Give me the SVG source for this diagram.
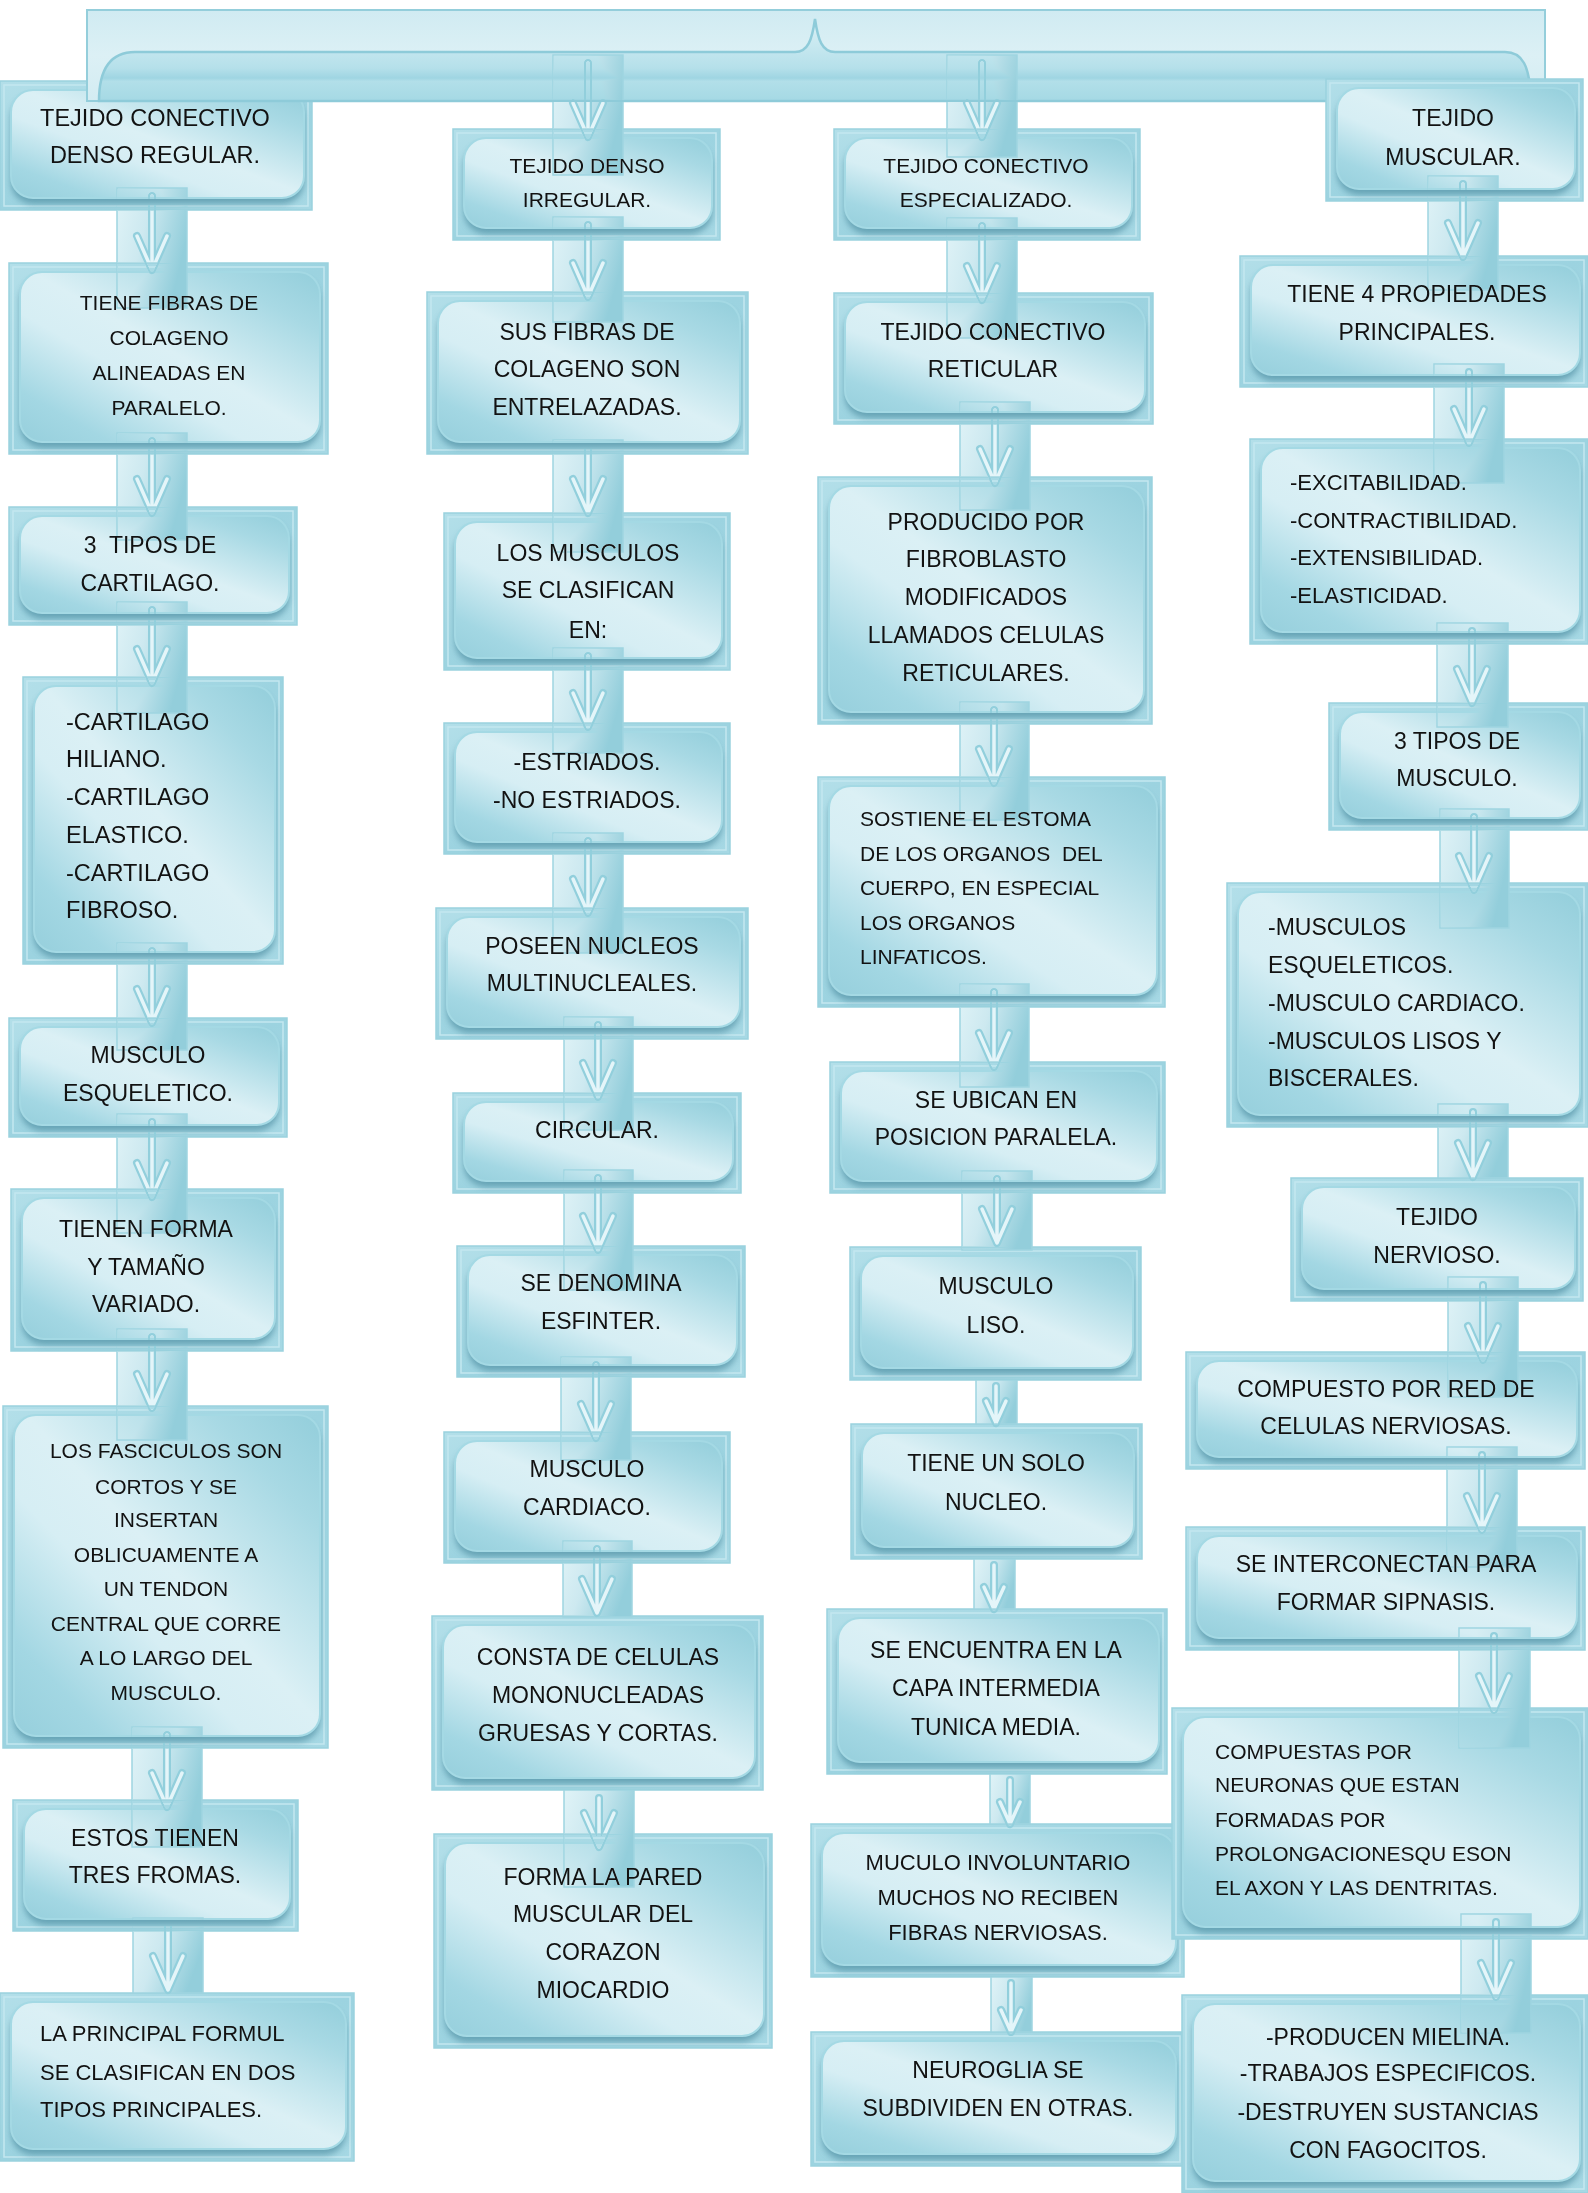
<svg xmlns="http://www.w3.org/2000/svg" width="1588" height="2193" viewBox="0 0 1588 2193">
<defs>
<linearGradient id="gO" x1="0" y1="0" x2="1" y2="1"><stop offset="0" stop-color="#b3dfe9"/><stop offset="0.5" stop-color="#9cd3e0"/><stop offset="1" stop-color="#a6d8e4"/></linearGradient>
<linearGradient id="gI" x1="1" y1="0" x2="0" y2="1"><stop offset="0" stop-color="#93cedb"/><stop offset="0.18" stop-color="#a8d9e4"/><stop offset="0.48" stop-color="#dbf0f5"/><stop offset="0.62" stop-color="#d6eef4"/><stop offset="0.85" stop-color="#a3d7e3"/><stop offset="1" stop-color="#96cfdc"/></linearGradient>
<linearGradient id="gA" x1="0" y1="0" x2="1" y2="0.4"><stop offset="0" stop-color="#e0f3f7"/><stop offset="0.45" stop-color="#cde9f0"/><stop offset="1" stop-color="#93cedb"/></linearGradient>
<linearGradient id="gBan" x1="0" y1="0" x2="0" y2="1"><stop offset="0" stop-color="#d0ebf2"/><stop offset="0.5" stop-color="#dcf0f5"/><stop offset="1" stop-color="#d3ecf2"/></linearGradient>
<linearGradient id="gBr" x1="0" y1="0" x2="0" y2="1"><stop offset="0" stop-color="#dcf1f6"/><stop offset="0.6" stop-color="#b5e0ea"/><stop offset="0.72" stop-color="#9fd5e2"/><stop offset="0.76" stop-color="#b2dfe9"/><stop offset="1" stop-color="#a5d9e4"/></linearGradient>
<filter id="bl" x="-10%" y="-10%" width="120%" height="130%"><feGaussianBlur stdDeviation="3"/></filter>
</defs>
<style>
.o{fill:url(#gO);stroke:#9ad2de;stroke-width:1.5}
.f{fill:none;stroke:#c4e7ef;stroke-width:1.5}
.s{fill:#4f8fa3;opacity:.7;filter:url(#bl);rx:22px;ry:22px}
.i{fill:url(#gI);stroke:#a4d9e4;stroke-width:2;rx:22px;ry:22px}
.t{font-family:'Liberation Sans',Arial,sans-serif;font-size:23px;fill:#121212;text-anchor:middle}
.tl{text-anchor:start}
.m{font-size:21px}.n{font-size:22px}.l{font-size:23.5px}
.ar{fill:url(#gA);stroke:#9fd5e1;stroke-width:1.5}
.ao{fill:none;stroke:#92cfdc;stroke-width:8;stroke-linejoin:round;stroke-linecap:round}
.ai{fill:none;stroke:#e4f5f9;stroke-width:3.5;stroke-linejoin:round;stroke-linecap:round}
#connectors{mix-blend-mode:darken}
</style>
<rect width="1588" height="2193" fill="#fff"/>
<g id="b1"><rect class="o" x="0" y="81" width="312" height="129"/><rect class="f" x="4" y="85" width="304" height="121"/><rect class="s" x="11" y="96" width="293" height="108"/><rect class="i" x="11" y="90" width="293" height="108"/><text class="t l"><tspan x="155" y="126">TEJIDO CONECTIVO</tspan><tspan x="155" y="163">DENSO REGULAR.</tspan></text></g>
<g id="top-brace"><rect x="87" y="10" width="1458" height="91" fill="url(#gBan)" stroke="#94cedb" stroke-width="2"/><path d="M99 101C99 70 110 52 135 52L795 52C808 52 812 40 815 19C818 40 822 52 835 52L1505 52C1522 52 1530 65 1531 101Z" fill="url(#gBr)" stroke="#8ecbd9" stroke-width="2.5"/></g>
<g id="b2"><rect class="o" x="9" y="263" width="319" height="191"/><rect class="f" x="13" y="267" width="311" height="183"/><rect class="s" x="20" y="278" width="300" height="170"/><rect class="i" x="20" y="272" width="300" height="170"/><text class="t m"><tspan x="169" y="310">TIENE FIBRAS DE</tspan><tspan x="169" y="345">COLAGENO</tspan><tspan x="169" y="380">ALINEADAS EN</tspan><tspan x="169" y="415">PARALELO.</tspan></text></g>
<g id="b3"><rect class="o" x="9" y="507" width="288" height="118"/><rect class="f" x="13" y="511" width="280" height="110"/><rect class="s" x="20" y="522" width="269" height="97"/><rect class="i" x="20" y="516" width="269" height="97"/><text class="t" xml:space="preserve"><tspan x="150" y="553">3  TIPOS DE</tspan><tspan x="150" y="591">CARTILAGO.</tspan></text></g>
<g id="b4"><rect class="o" x="23" y="677" width="260" height="287"/><rect class="f" x="27" y="681" width="252" height="279"/><rect class="s" x="34" y="692" width="241" height="266"/><rect class="i" x="34" y="686" width="241" height="266"/><text class="t tl l"><tspan x="66" y="730">-CARTILAGO</tspan><tspan x="66" y="767">HILIANO.</tspan><tspan x="66" y="805">-CARTILAGO</tspan><tspan x="66" y="843">ELASTICO.</tspan><tspan x="66" y="881">-CARTILAGO</tspan><tspan x="66" y="918">FIBROSO.</tspan></text></g>
<g id="b5"><rect class="o" x="9" y="1018" width="278" height="119"/><rect class="f" x="13" y="1022" width="270" height="111"/><rect class="s" x="20" y="1033" width="259" height="98"/><rect class="i" x="20" y="1027" width="259" height="98"/><text class="t"><tspan x="148" y="1063">MUSCULO</tspan><tspan x="148" y="1101">ESQUELETICO.</tspan></text></g>
<g id="b6"><rect class="o" x="11" y="1189" width="272" height="162"/><rect class="f" x="15" y="1193" width="264" height="154"/><rect class="s" x="22" y="1204" width="253" height="141"/><rect class="i" x="22" y="1198" width="253" height="141"/><text class="t"><tspan x="146" y="1237">TIENEN FORMA</tspan><tspan x="146" y="1275">Y TAMAÑO</tspan><tspan x="146" y="1312">VARIADO.</tspan></text></g>
<g id="b7"><rect class="o" x="3" y="1406" width="325" height="342"/><rect class="f" x="7" y="1410" width="317" height="334"/><rect class="s" x="14" y="1421" width="306" height="321"/><rect class="i" x="14" y="1415" width="306" height="321"/><text class="t m"><tspan x="166" y="1458">LOS FASCICULOS SON</tspan><tspan x="166" y="1494">CORTOS Y SE</tspan><tspan x="166" y="1527">INSERTAN</tspan><tspan x="166" y="1562">OBLICUAMENTE A</tspan><tspan x="166" y="1596">UN TENDON</tspan><tspan x="166" y="1631">CENTRAL QUE CORRE</tspan><tspan x="166" y="1665">A LO LARGO DEL</tspan><tspan x="166" y="1700">MUSCULO.</tspan></text></g>
<g id="b8"><rect class="o" x="13" y="1800" width="285" height="131"/><rect class="f" x="17" y="1804" width="277" height="123"/><rect class="s" x="24" y="1815" width="266" height="110"/><rect class="i" x="24" y="1809" width="266" height="110"/><text class="t"><tspan x="155" y="1846">ESTOS TIENEN</tspan><tspan x="155" y="1883">TRES FROMAS.</tspan></text></g>
<g id="b9"><rect class="o" x="0" y="1993" width="354" height="168"/><rect class="f" x="4" y="1997" width="346" height="160"/><rect class="s" x="11" y="2008" width="335" height="147"/><rect class="i" x="11" y="2002" width="335" height="147"/><text class="t tl n"><tspan x="40" y="2041">LA PRINCIPAL FORMUL</tspan><tspan x="40" y="2080">SE CLASIFICAN EN DOS</tspan><tspan x="40" y="2117">TIPOS PRINCIPALES.</tspan></text></g>
<g id="b10"><rect class="o" x="453" y="129" width="267" height="111"/><rect class="f" x="457" y="133" width="259" height="103"/><rect class="s" x="464" y="144" width="248" height="90"/><rect class="i" x="464" y="138" width="248" height="90"/><text class="t m"><tspan x="587" y="173">TEJIDO DENSO</tspan><tspan x="587" y="207">IRREGULAR.</tspan></text></g>
<g id="b11"><rect class="o" x="427" y="292" width="321" height="162"/><rect class="f" x="431" y="296" width="313" height="154"/><rect class="s" x="438" y="307" width="302" height="141"/><rect class="i" x="438" y="301" width="302" height="141"/><text class="t"><tspan x="587" y="340">SUS FIBRAS DE</tspan><tspan x="587" y="377">COLAGENO SON</tspan><tspan x="587" y="415">ENTRELAZADAS.</tspan></text></g>
<g id="b12"><rect class="o" x="444" y="513" width="286" height="157"/><rect class="f" x="448" y="517" width="278" height="149"/><rect class="s" x="455" y="528" width="267" height="136"/><rect class="i" x="455" y="522" width="267" height="136"/><text class="t"><tspan x="588" y="561">LOS MUSCULOS</tspan><tspan x="588" y="598">SE CLASIFICAN</tspan><tspan x="588" y="638">EN:</tspan></text></g>
<g id="b13"><rect class="o" x="444" y="723" width="286" height="131"/><rect class="f" x="448" y="727" width="278" height="123"/><rect class="s" x="455" y="738" width="267" height="110"/><rect class="i" x="455" y="732" width="267" height="110"/><text class="t"><tspan x="587" y="770">-ESTRIADOS.</tspan><tspan x="587" y="808">-NO ESTRIADOS.</tspan></text></g>
<g id="b14"><rect class="o" x="436" y="908" width="312" height="131"/><rect class="f" x="440" y="912" width="304" height="123"/><rect class="s" x="447" y="923" width="293" height="110"/><rect class="i" x="447" y="917" width="293" height="110"/><text class="t"><tspan x="592" y="954">POSEEN NUCLEOS</tspan><tspan x="592" y="991">MULTINUCLEALES.</tspan></text></g>
<g id="b15"><rect class="o" x="453" y="1093" width="288" height="100"/><rect class="f" x="457" y="1097" width="280" height="92"/><rect class="s" x="464" y="1108" width="269" height="79"/><rect class="i" x="464" y="1102" width="269" height="79"/><text class="t"><tspan x="597" y="1138">CIRCULAR.</tspan></text></g>
<g id="b16"><rect class="o" x="457" y="1246" width="288" height="131"/><rect class="f" x="461" y="1250" width="280" height="123"/><rect class="s" x="468" y="1261" width="269" height="110"/><rect class="i" x="468" y="1255" width="269" height="110"/><text class="t"><tspan x="601" y="1291">SE DENOMINA</tspan><tspan x="601" y="1329">ESFINTER.</tspan></text></g>
<g id="b17"><rect class="o" x="444" y="1432" width="286" height="131"/><rect class="f" x="448" y="1436" width="278" height="123"/><rect class="s" x="455" y="1447" width="267" height="110"/><rect class="i" x="455" y="1441" width="267" height="110"/><text class="t"><tspan x="587" y="1477">MUSCULO</tspan><tspan x="587" y="1515">CARDIACO.</tspan></text></g>
<g id="b18"><rect class="o" x="432" y="1616" width="331" height="174"/><rect class="f" x="436" y="1620" width="323" height="166"/><rect class="s" x="443" y="1631" width="312" height="153"/><rect class="i" x="443" y="1625" width="312" height="153"/><text class="t"><tspan x="598" y="1665">CONSTA DE CELULAS</tspan><tspan x="598" y="1703">MONONUCLEADAS</tspan><tspan x="598" y="1741">GRUESAS Y CORTAS.</tspan></text></g>
<g id="b19"><rect class="o" x="434" y="1834" width="338" height="214"/><rect class="f" x="438" y="1838" width="330" height="206"/><rect class="s" x="445" y="1849" width="319" height="193"/><rect class="i" x="445" y="1843" width="319" height="193"/><text class="t"><tspan x="603" y="1885">FORMA LA PARED</tspan><tspan x="603" y="1922">MUSCULAR DEL</tspan><tspan x="603" y="1960">CORAZON</tspan><tspan x="603" y="1998">MIOCARDIO</tspan></text></g>
<g id="b20"><rect class="o" x="834" y="129" width="306" height="111"/><rect class="f" x="838" y="133" width="298" height="103"/><rect class="s" x="845" y="144" width="287" height="90"/><rect class="i" x="845" y="138" width="287" height="90"/><text class="t m"><tspan x="986" y="173">TEJIDO CONECTIVO</tspan><tspan x="986" y="207">ESPECIALIZADO.</tspan></text></g>
<g id="b21"><rect class="o" x="834" y="293" width="319" height="131"/><rect class="f" x="838" y="297" width="311" height="123"/><rect class="s" x="845" y="308" width="300" height="110"/><rect class="i" x="845" y="302" width="300" height="110"/><text class="t"><tspan x="993" y="340">TEJIDO CONECTIVO</tspan><tspan x="993" y="377">RETICULAR</tspan></text></g>
<g id="b22"><rect class="o" x="818" y="477" width="334" height="247"/><rect class="f" x="822" y="481" width="326" height="239"/><rect class="s" x="829" y="492" width="315" height="226"/><rect class="i" x="829" y="486" width="315" height="226"/><text class="t"><tspan x="986" y="530">PRODUCIDO POR</tspan><tspan x="986" y="567">FIBROBLASTO</tspan><tspan x="986" y="605">MODIFICADOS</tspan><tspan x="986" y="643">LLAMADOS CELULAS</tspan><tspan x="986" y="681">RETICULARES.</tspan></text></g>
<g id="b23"><rect class="o" x="818" y="777" width="347" height="230"/><rect class="f" x="822" y="781" width="339" height="222"/><rect class="s" x="829" y="792" width="328" height="209"/><rect class="i" x="829" y="786" width="328" height="209"/><text class="t tl m" xml:space="preserve"><tspan x="860" y="826">SOSTIENE EL ESTOMA</tspan><tspan x="860" y="861">DE LOS ORGANOS  DEL</tspan><tspan x="860" y="895">CUERPO, EN ESPECIAL</tspan><tspan x="860" y="930">LOS ORGANOS</tspan><tspan x="860" y="964">LINFATICOS.</tspan></text></g>
<g id="b24"><rect class="o" x="830" y="1062" width="335" height="131"/><rect class="f" x="834" y="1066" width="327" height="123"/><rect class="s" x="841" y="1077" width="316" height="110"/><rect class="i" x="841" y="1071" width="316" height="110"/><text class="t"><tspan x="996" y="1108">SE UBICAN EN</tspan><tspan x="996" y="1145">POSICION PARALELA.</tspan></text></g>
<g id="b25"><rect class="o" x="850" y="1247" width="291" height="133"/><rect class="f" x="854" y="1251" width="283" height="125"/><rect class="s" x="861" y="1262" width="272" height="112"/><rect class="i" x="861" y="1256" width="272" height="112"/><text class="t"><tspan x="996" y="1294">MUSCULO</tspan><tspan x="996" y="1333">LISO.</tspan></text></g>
<g id="b26"><rect class="o" x="851" y="1424" width="291" height="135"/><rect class="f" x="855" y="1428" width="283" height="127"/><rect class="s" x="862" y="1439" width="272" height="114"/><rect class="i" x="862" y="1433" width="272" height="114"/><text class="t"><tspan x="996" y="1471">TIENE UN SOLO</tspan><tspan x="996" y="1510">NUCLEO.</tspan></text></g>
<g id="b27"><rect class="o" x="827" y="1609" width="340" height="165"/><rect class="f" x="831" y="1613" width="332" height="157"/><rect class="s" x="838" y="1624" width="321" height="144"/><rect class="i" x="838" y="1618" width="321" height="144"/><text class="t"><tspan x="996" y="1658">SE ENCUENTRA EN LA</tspan><tspan x="996" y="1696">CAPA INTERMEDIA</tspan><tspan x="996" y="1735">TUNICA MEDIA.</tspan></text></g>
<g id="b28"><rect class="o" x="811" y="1824" width="373" height="153"/><rect class="f" x="815" y="1828" width="365" height="145"/><rect class="s" x="822" y="1839" width="354" height="132"/><rect class="i" x="822" y="1833" width="354" height="132"/><text class="t n"><tspan x="998" y="1870">MUCULO INVOLUNTARIO</tspan><tspan x="998" y="1905">MUCHOS NO RECIBEN</tspan><tspan x="998" y="1940">FIBRAS NERVIOSAS.</tspan></text></g>
<g id="b29"><rect class="o" x="811" y="2032" width="373" height="134"/><rect class="f" x="815" y="2036" width="365" height="126"/><rect class="s" x="822" y="2047" width="354" height="113"/><rect class="i" x="822" y="2041" width="354" height="113"/><text class="t"><tspan x="998" y="2078">NEUROGLIA SE</tspan><tspan x="998" y="2116">SUBDIVIDEN EN OTRAS.</tspan></text></g>
<g id="b30"><rect class="o" x="1326" y="79" width="257" height="122"/><rect class="f" x="1330" y="83" width="249" height="114"/><rect class="s" x="1337" y="94" width="238" height="101"/><rect class="i" x="1337" y="88" width="238" height="101"/><text class="t"><tspan x="1453" y="126">TEJIDO</tspan><tspan x="1453" y="165">MUSCULAR.</tspan></text></g>
<g id="b31"><rect class="o" x="1240" y="256" width="348" height="131"/><rect class="f" x="1244" y="260" width="340" height="123"/><rect class="s" x="1251" y="271" width="329" height="110"/><rect class="i" x="1251" y="265" width="329" height="110"/><text class="t"><tspan x="1417" y="302">TIENE 4 PROPIEDADES</tspan><tspan x="1417" y="340">PRINCIPALES.</tspan></text></g>
<g id="b32"><rect class="o" x="1250" y="439" width="338" height="205"/><rect class="f" x="1254" y="443" width="330" height="197"/><rect class="s" x="1261" y="454" width="319" height="184"/><rect class="i" x="1261" y="448" width="319" height="184"/><text class="t tl n"><tspan x="1290" y="490">-EXCITABILIDAD.</tspan><tspan x="1290" y="528">-CONTRACTIBILIDAD.</tspan><tspan x="1290" y="565">-EXTENSIBILIDAD.</tspan><tspan x="1290" y="603">-ELASTICIDAD.</tspan></text></g>
<g id="b33"><rect class="o" x="1329" y="703" width="259" height="127"/><rect class="f" x="1333" y="707" width="251" height="119"/><rect class="s" x="1340" y="718" width="240" height="106"/><rect class="i" x="1340" y="712" width="240" height="106"/><text class="t"><tspan x="1457" y="749">3 TIPOS DE</tspan><tspan x="1457" y="786">MUSCULO.</tspan></text></g>
<g id="b34"><rect class="o" x="1227" y="883" width="361" height="244"/><rect class="f" x="1231" y="887" width="353" height="236"/><rect class="s" x="1238" y="898" width="342" height="223"/><rect class="i" x="1238" y="892" width="342" height="223"/><text class="t tl"><tspan x="1268" y="935">-MUSCULOS</tspan><tspan x="1268" y="973">ESQUELETICOS.</tspan><tspan x="1268" y="1011">-MUSCULO CARDIACO.</tspan><tspan x="1268" y="1049">-MUSCULOS LISOS Y</tspan><tspan x="1268" y="1086">BISCERALES.</tspan></text></g>
<g id="b35"><rect class="o" x="1291" y="1178" width="292" height="123"/><rect class="f" x="1295" y="1182" width="284" height="115"/><rect class="s" x="1302" y="1193" width="273" height="102"/><rect class="i" x="1302" y="1187" width="273" height="102"/><text class="t"><tspan x="1437" y="1225">TEJIDO</tspan><tspan x="1437" y="1263">NERVIOSO.</tspan></text></g>
<g id="b36"><rect class="o" x="1186" y="1352" width="399" height="117"/><rect class="f" x="1190" y="1356" width="391" height="109"/><rect class="s" x="1197" y="1367" width="380" height="96"/><rect class="i" x="1197" y="1361" width="380" height="96"/><text class="t"><tspan x="1386" y="1397">COMPUESTO POR RED DE</tspan><tspan x="1386" y="1434">CELULAS NERVIOSAS.</tspan></text></g>
<g id="b37"><rect class="o" x="1186" y="1527" width="399" height="123"/><rect class="f" x="1190" y="1531" width="391" height="115"/><rect class="s" x="1197" y="1542" width="380" height="102"/><rect class="i" x="1197" y="1536" width="380" height="102"/><text class="t"><tspan x="1386" y="1572">SE INTERCONECTAN PARA</tspan><tspan x="1386" y="1610">FORMAR SIPNASIS.</tspan></text></g>
<g id="b38"><rect class="o" x="1172" y="1708" width="416" height="231"/><rect class="f" x="1176" y="1712" width="408" height="223"/><rect class="s" x="1183" y="1723" width="397" height="210"/><rect class="i" x="1183" y="1717" width="397" height="210"/><text class="t tl m"><tspan x="1215" y="1759">COMPUESTAS POR</tspan><tspan x="1215" y="1792">NEURONAS QUE ESTAN</tspan><tspan x="1215" y="1827">FORMADAS POR</tspan><tspan x="1215" y="1861">PROLONGACIONESQU ESON</tspan><tspan x="1215" y="1895">EL AXON Y LAS DENTRITAS.</tspan></text></g>
<g id="b39"><rect class="o" x="1182" y="1995" width="406" height="198"/><rect class="f" x="1186" y="1999" width="398" height="190"/><rect class="s" x="1193" y="2010" width="387" height="177"/><rect class="i" x="1193" y="2004" width="387" height="177"/><text class="t"><tspan x="1388" y="2045">-PRODUCEN MIELINA.</tspan><tspan x="1388" y="2081">-TRABAJOS ESPECIFICOS.</tspan><tspan x="1388" y="2120">-DESTRUYEN SUSTANCIAS</tspan><tspan x="1388" y="2158">CON FAGOCITOS.</tspan></text></g>
<g id="connectors">
<g id="a0"><rect class="ar" x="553" y="55" width="70" height="120"/><path class="ao" d="M588 63V132M573 103L588 137L603 103"/><path class="ai" d="M588 63V132M573 103L588 137L603 103"/></g>
<g id="a0b"><rect class="ar" x="947" y="55" width="70" height="102"/><path class="ao" d="M982 63V132M967 103L982 137L997 103"/><path class="ai" d="M982 63V132M967 103L982 137L997 103"/></g>
<g id="a1"><rect class="ar" x="117" y="188" width="70" height="120"/><path class="ao" d="M152 196V265M137 236L152 270L167 236"/><path class="ai" d="M152 196V265M137 236L152 270L167 236"/></g>
<g id="a2"><rect class="ar" x="117" y="433" width="70" height="107"/><path class="ao" d="M152 441V508M137 479L152 513L167 479"/><path class="ai" d="M152 441V508M137 479L152 513L167 479"/></g>
<g id="a3"><rect class="ar" x="117" y="602" width="70" height="111"/><path class="ao" d="M152 610V678M137 649L152 683L167 649"/><path class="ai" d="M152 610V678M137 649L152 683L167 649"/></g>
<g id="a4"><rect class="ar" x="117" y="943" width="70" height="107"/><path class="ao" d="M152 951V1018M137 989L152 1023L167 989"/><path class="ai" d="M152 951V1018M137 989L152 1023L167 989"/></g>
<g id="a5"><rect class="ar" x="117" y="1114" width="70" height="119"/><path class="ao" d="M152 1122V1192M137 1163L152 1197L167 1163"/><path class="ai" d="M152 1122V1192M137 1163L152 1197L167 1163"/></g>
<g id="a6"><rect class="ar" x="117" y="1329" width="70" height="111"/><path class="ao" d="M152 1337V1403M137 1374L152 1408L167 1374"/><path class="ai" d="M152 1337V1403M137 1374L152 1408L167 1374"/></g>
<g id="a7"><rect class="ar" x="132" y="1727" width="70" height="120"/><path class="ao" d="M167 1735V1802M152 1773L167 1807L182 1773"/><path class="ai" d="M167 1735V1802M152 1773L167 1807L182 1773"/></g>
<g id="a8"><rect class="ar" x="133" y="1918" width="70" height="75"/><path class="ao" d="M168 1926V1985M153 1956L168 1990L183 1956"/><path class="ai" d="M168 1926V1985M153 1956L168 1990L183 1956"/></g>
<g id="a10"><rect class="ar" x="553" y="217" width="70" height="105"/><path class="ao" d="M588 225V292M573 263L588 297L603 263"/><path class="ai" d="M588 225V292M573 263L588 297L603 263"/></g>
<g id="a11"><rect class="ar" x="553" y="440" width="70" height="112"/><path class="ao" d="M588 448V508M573 479L588 513L603 479"/><path class="ai" d="M588 448V508M573 479L588 513L603 479"/></g>
<g id="a12"><rect class="ar" x="553" y="648" width="70" height="105"/><path class="ao" d="M588 656V722M573 693L588 727L603 693"/><path class="ai" d="M588 656V722M573 693L588 727L603 693"/></g>
<g id="a13"><rect class="ar" x="553" y="833" width="70" height="120"/><path class="ao" d="M588 841V908M573 879L588 913L603 879"/><path class="ai" d="M588 841V908M573 879L588 913L603 879"/></g>
<g id="a14"><rect class="ar" x="564" y="1017" width="69" height="113"/><path class="ao" d="M598 1025V1092M583 1063L598 1097L613 1063"/><path class="ai" d="M598 1025V1092M583 1063L598 1097L613 1063"/></g>
<g id="a15"><rect class="ar" x="564" y="1170" width="69" height="120"/><path class="ao" d="M598 1178V1245M583 1216L598 1250L613 1216"/><path class="ai" d="M598 1178V1245M583 1216L598 1250L613 1216"/></g>
<g id="a16"><rect class="ar" x="561" y="1357" width="70" height="103"/><path class="ao" d="M596 1365V1433M581 1404L596 1438L611 1404"/><path class="ai" d="M596 1365V1433M581 1404L596 1438L611 1404"/></g>
<g id="a17"><rect class="ar" x="563" y="1541" width="69" height="76"/><path class="ao" d="M597 1549V1608M582 1579L597 1613L612 1579"/><path class="ai" d="M597 1549V1608M582 1579L597 1613L612 1579"/></g>
<g id="a18"><rect class="ar" x="564" y="1790" width="70" height="97"/><path class="ao" d="M599 1798V1842M584 1813L599 1847L614 1813"/><path class="ai" d="M599 1798V1842M584 1813L599 1847L614 1813"/></g>
<g id="a20"><rect class="ar" x="947" y="218" width="70" height="120"/><path class="ao" d="M982 226V295M967 266L982 300L997 266"/><path class="ai" d="M982 226V295M967 266L982 300L997 266"/></g>
<g id="a21"><rect class="ar" x="960" y="402" width="70" height="108"/><path class="ao" d="M995 410V478M980 449L995 483L1010 449"/><path class="ai" d="M995 410V478M980 449L995 483L1010 449"/></g>
<g id="a22"><rect class="ar" x="960" y="702" width="69" height="118"/><path class="ao" d="M994 710V778M979 749L994 783L1009 749"/><path class="ai" d="M994 710V778M979 749L994 783L1009 749"/></g>
<g id="a23"><rect class="ar" x="960" y="984" width="69" height="103"/><path class="ao" d="M994 992V1062M979 1033L994 1067L1009 1033"/><path class="ai" d="M994 992V1062M979 1033L994 1067L1009 1033"/></g>
<g id="a24"><rect class="ar" x="962" y="1171" width="70" height="79"/><path class="ao" d="M997 1179V1238M982 1209L997 1243L1012 1209"/><path class="ai" d="M997 1179V1238M982 1209L997 1243L1012 1209"/></g>
<g id="a25"><rect class="ar" x="976" y="1380" width="41" height="44"/><path class="ao" d="M996 1386V1419M986 1401L996 1423L1006 1401"/><path class="ai" d="M996 1386V1419M986 1401L996 1423L1006 1401"/></g>
<g id="a26"><rect class="ar" x="974" y="1559" width="41" height="50"/><path class="ao" d="M994 1565V1605M984 1587L994 1609L1004 1587"/><path class="ai" d="M994 1565V1605M984 1587L994 1609L1004 1587"/></g>
<g id="a27"><rect class="ar" x="990" y="1774" width="40" height="50"/><path class="ao" d="M1010 1780V1820M1000 1802L1010 1824L1020 1802"/><path class="ai" d="M1010 1780V1820M1000 1802L1010 1824L1020 1802"/></g>
<g id="a28"><rect class="ar" x="991" y="1977" width="41" height="55"/><path class="ao" d="M1011 1983V2028M1001 2010L1011 2032L1021 2010"/><path class="ai" d="M1011 1983V2028M1001 2010L1011 2032L1021 2010"/></g>
<g id="a30"><rect class="ar" x="1428" y="176" width="70" height="114"/><path class="ao" d="M1463 184V252M1448 223L1463 257L1478 223"/><path class="ai" d="M1463 184V252M1448 223L1463 257L1478 223"/></g>
<g id="a31"><rect class="ar" x="1434" y="364" width="70" height="119"/><path class="ao" d="M1469 372V438M1454 409L1469 443L1484 409"/><path class="ai" d="M1469 372V438M1454 409L1469 443L1484 409"/></g>
<g id="a32"><rect class="ar" x="1437" y="623" width="71" height="104"/><path class="ao" d="M1472 631V698M1457 669L1472 703L1487 669"/><path class="ai" d="M1472 631V698M1457 669L1472 703L1487 669"/></g>
<g id="a33"><rect class="ar" x="1440" y="809" width="69" height="119"/><path class="ao" d="M1474 817V885M1459 856L1474 890L1489 856"/><path class="ai" d="M1474 817V885M1459 856L1474 890L1489 856"/></g>
<g id="a34"><rect class="ar" x="1438" y="1104" width="70" height="74"/><path class="ao" d="M1473 1112V1172M1458 1143L1473 1177L1488 1143"/><path class="ai" d="M1473 1112V1172M1458 1143L1473 1177L1488 1143"/></g>
<g id="a35"><rect class="ar" x="1448" y="1277" width="70" height="120"/><path class="ao" d="M1483 1285V1355M1468 1326L1483 1360L1498 1326"/><path class="ai" d="M1483 1285V1355M1468 1326L1483 1360L1498 1326"/></g>
<g id="a36"><rect class="ar" x="1447" y="1447" width="70" height="120"/><path class="ao" d="M1482 1455V1525M1467 1496L1482 1530L1497 1496"/><path class="ai" d="M1482 1455V1525M1467 1496L1482 1530L1497 1496"/></g>
<g id="a37"><rect class="ar" x="1459" y="1628" width="71" height="120"/><path class="ao" d="M1494 1636V1705M1479 1676L1494 1710L1509 1676"/><path class="ai" d="M1494 1636V1705M1479 1676L1494 1710L1509 1676"/></g>
<g id="a38"><rect class="ar" x="1461" y="1914" width="70" height="119"/><path class="ao" d="M1496 1922V1992M1481 1963L1496 1997L1511 1963"/><path class="ai" d="M1496 1922V1992M1481 1963L1496 1997L1511 1963"/></g>
</g>
</svg>
